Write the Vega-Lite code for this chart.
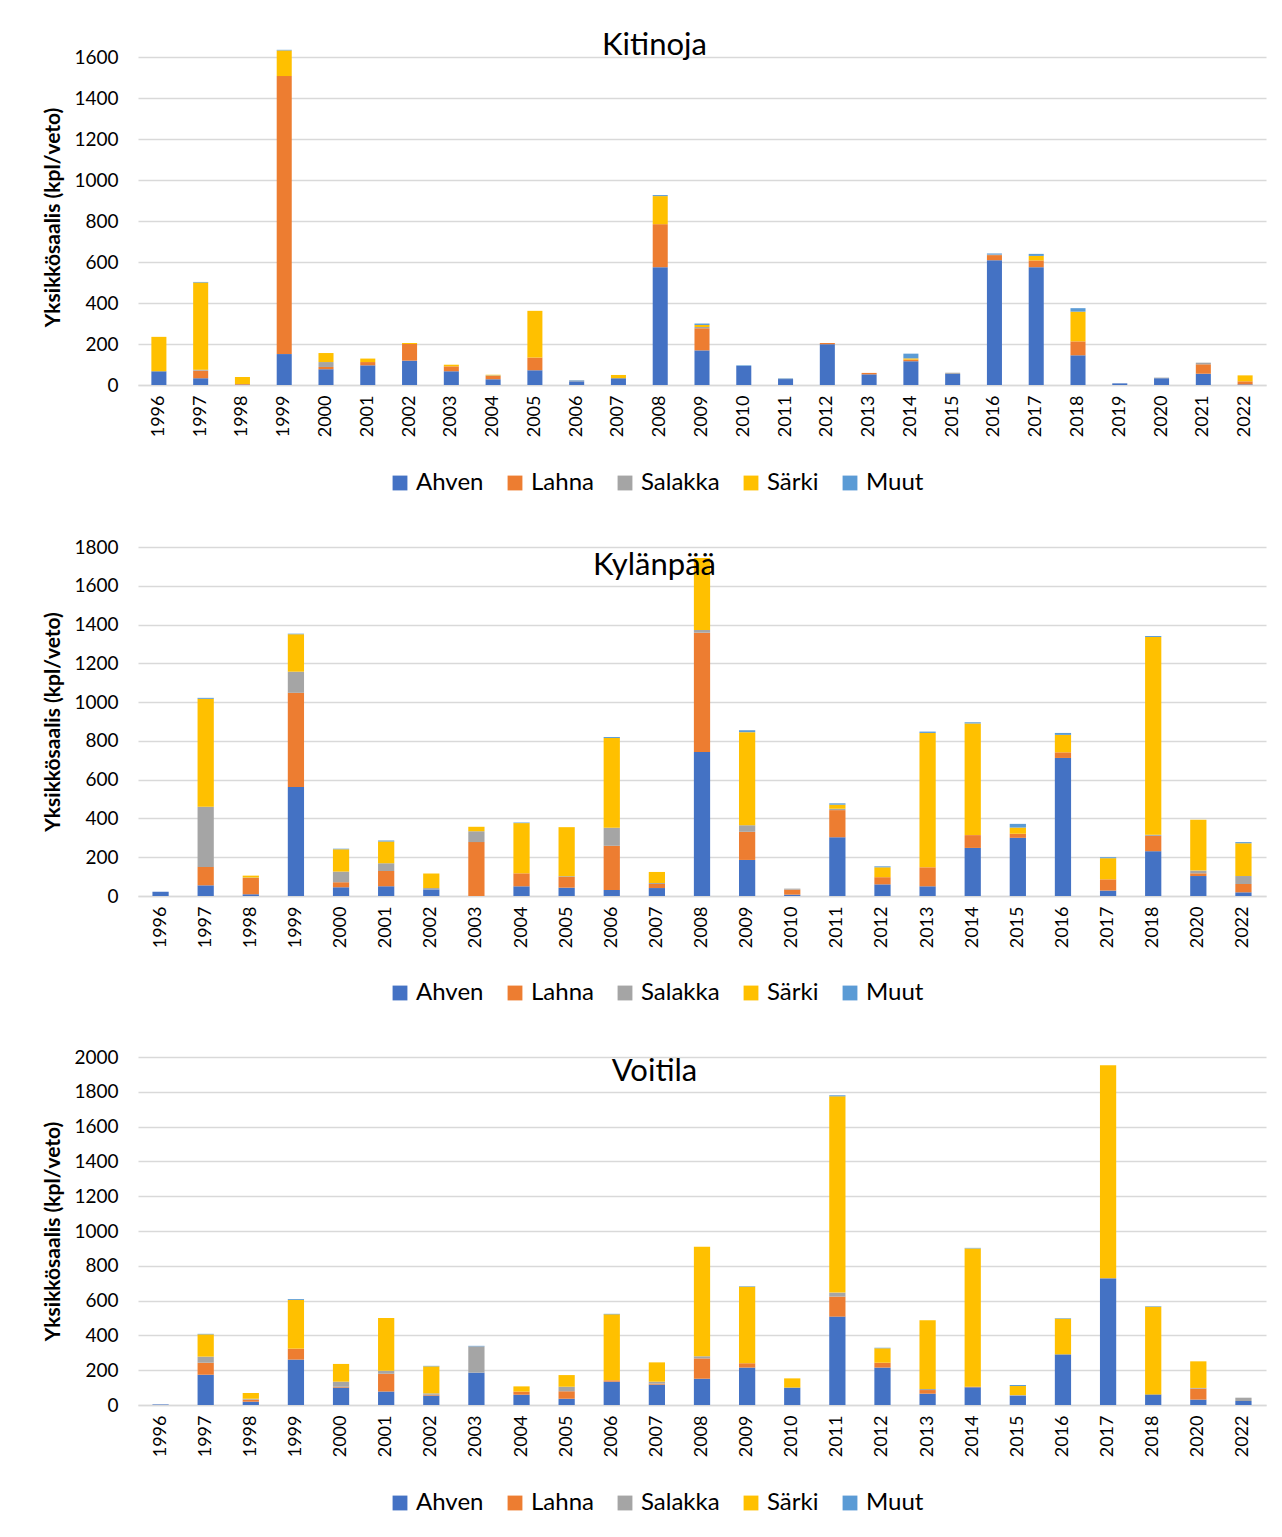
{
"$schema": "https://vega.github.io/schema/vega-lite/v6.json",
"padding": {"left": 42, "top": 30, "right": 14, "bottom": 10},
"config": {
  "font": "Lato",
  "view": {"stroke": null},
  "concat": {"spacing": 43},
  "axisX": {"domainColor": "#d9d9d9", "domainWidth": 1.5, "ticks": false, "labelAngle": -90, "labelFontSize": 18, "labelPadding": 10, "labelColor": "#000", "title": null, "grid": false},
  "axisY": {"domain": false, "ticks": false, "gridColor": "#d9d9d9", "gridWidth": 1.5, "labelFontSize": 19, "labelPadding": 20, "labelColor": "#000", "titleFontSize": 21, "titleFontWeight": "bold", "titleColor": "#000", "titlePadding": 10, "format": "d"},
  "legend": {"orient": "none", "direction": "horizontal", "title": null, "symbolType": "square", "symbolSize": 220, "symbolStrokeWidth": 0, "labelFontSize": 24, "labelColor": "#000", "columnPadding": 19, "legendX": 250},
  "title": {"fontSize": 31, "fontWeight": "normal", "color": "#000", "anchor": "middle", "frame": "bounds"}
},
"datasets": {"d": [
{"p":"Kitinoja","v":"1996","Ahven":67,"Lahna":0,"Salakka":0,"Särki":168,"Muut":0},
{"p":"Kitinoja","v":"1997","Ahven":33,"Lahna":37,"Salakka":5,"Särki":425,"Muut":3},
{"p":"Kitinoja","v":"1998","Ahven":2,"Lahna":3,"Salakka":0,"Särki":34,"Muut":0},
{"p":"Kitinoja","v":"1999","Ahven":151,"Lahna":1357,"Salakka":0,"Särki":125,"Muut":3},
{"p":"Kitinoja","v":"2000","Ahven":77,"Lahna":11,"Salakka":24,"Särki":44,"Muut":0},
{"p":"Kitinoja","v":"2001","Ahven":96,"Lahna":16,"Salakka":0,"Särki":17,"Muut":0},
{"p":"Kitinoja","v":"2002","Ahven":119,"Lahna":81,"Salakka":0,"Särki":5,"Muut":0},
{"p":"Kitinoja","v":"2003","Ahven":67,"Lahna":24,"Salakka":0,"Särki":8,"Muut":0},
{"p":"Kitinoja","v":"2004","Ahven":28,"Lahna":16,"Salakka":3,"Särki":3,"Muut":0},
{"p":"Kitinoja","v":"2005","Ahven":72,"Lahna":62,"Salakka":0,"Särki":228,"Muut":0},
{"p":"Kitinoja","v":"2006","Ahven":18,"Lahna":0,"Salakka":4,"Särki":0,"Muut":2},
{"p":"Kitinoja","v":"2007","Ahven":33,"Lahna":0,"Salakka":0,"Särki":16,"Muut":0},
{"p":"Kitinoja","v":"2008","Ahven":575,"Lahna":210,"Salakka":0,"Särki":137,"Muut":5},
{"p":"Kitinoja","v":"2009","Ahven":169,"Lahna":108,"Salakka":6,"Särki":10,"Muut":7},
{"p":"Kitinoja","v":"2010","Ahven":93,"Lahna":0,"Salakka":0,"Särki":0,"Muut":3},
{"p":"Kitinoja","v":"2011","Ahven":29,"Lahna":0,"Salakka":2,"Särki":0,"Muut":2},
{"p":"Kitinoja","v":"2012","Ahven":199,"Lahna":6,"Salakka":0,"Särki":0,"Muut":0},
{"p":"Kitinoja","v":"2013","Ahven":52,"Lahna":7,"Salakka":0,"Särki":0,"Muut":0},
{"p":"Kitinoja","v":"2014","Ahven":116,"Lahna":8,"Salakka":0,"Särki":6,"Muut":23},
{"p":"Kitinoja","v":"2015","Ahven":54,"Lahna":0,"Salakka":6,"Särki":0,"Muut":0},
{"p":"Kitinoja","v":"2016","Ahven":609,"Lahna":25,"Salakka":3,"Särki":0,"Muut":5},
{"p":"Kitinoja","v":"2017","Ahven":575,"Lahna":33,"Salakka":0,"Särki":22,"Muut":10},
{"p":"Kitinoja","v":"2018","Ahven":145,"Lahna":68,"Salakka":0,"Särki":145,"Muut":17},
{"p":"Kitinoja","v":"2019","Ahven":8,"Lahna":0,"Salakka":0,"Särki":0,"Muut":0},
{"p":"Kitinoja","v":"2020","Ahven":33,"Lahna":0,"Salakka":3,"Särki":0,"Muut":0},
{"p":"Kitinoja","v":"2021","Ahven":55,"Lahna":46,"Salakka":8,"Särki":0,"Muut":0},
{"p":"Kitinoja","v":"2022","Ahven":3,"Lahna":15,"Salakka":0,"Särki":29,"Muut":0},
{"p":"Kylänpää","v":"1996","Ahven":22,"Lahna":0,"Salakka":0,"Särki":0,"Muut":0},
{"p":"Kylänpää","v":"1997","Ahven":55,"Lahna":95,"Salakka":310,"Särki":557,"Muut":5},
{"p":"Kylänpää","v":"1998","Ahven":9,"Lahna":84,"Salakka":2,"Särki":10,"Muut":0},
{"p":"Kylänpää","v":"1999","Ahven":562,"Lahna":486,"Salakka":109,"Särki":193,"Muut":3},
{"p":"Kylänpää","v":"2000","Ahven":45,"Lahna":26,"Salakka":55,"Särki":115,"Muut":3},
{"p":"Kylänpää","v":"2001","Ahven":50,"Lahna":79,"Salakka":40,"Särki":112,"Muut":5},
{"p":"Kylänpää","v":"2002","Ahven":34,"Lahna":0,"Salakka":7,"Särki":75,"Muut":0},
{"p":"Kylänpää","v":"2003","Ahven":0,"Lahna":278,"Salakka":56,"Särki":23,"Muut":0},
{"p":"Kylänpää","v":"2004","Ahven":50,"Lahna":67,"Salakka":0,"Särki":259,"Muut":3},
{"p":"Kylänpää","v":"2005","Ahven":43,"Lahna":55,"Salakka":4,"Särki":253,"Muut":0},
{"p":"Kylänpää","v":"2006","Ahven":31,"Lahna":228,"Salakka":93,"Särki":463,"Muut":5},
{"p":"Kylänpää","v":"2007","Ahven":41,"Lahna":21,"Salakka":5,"Särki":57,"Muut":0},
{"p":"Kylänpää","v":"2008","Ahven":743,"Lahna":615,"Salakka":14,"Särki":371,"Muut":0},
{"p":"Kylänpää","v":"2009","Ahven":186,"Lahna":145,"Salakka":34,"Särki":480,"Muut":10},
{"p":"Kylänpää","v":"2010","Ahven":7,"Lahna":26,"Salakka":5,"Särki":0,"Muut":0},
{"p":"Kylänpää","v":"2011","Ahven":303,"Lahna":140,"Salakka":7,"Särki":21,"Muut":7},
{"p":"Kylänpää","v":"2012","Ahven":60,"Lahna":37,"Salakka":0,"Särki":51,"Muut":5},
{"p":"Kylänpää","v":"2013","Ahven":50,"Lahna":98,"Salakka":0,"Särki":693,"Muut":7},
{"p":"Kylänpää","v":"2014","Ahven":248,"Lahna":66,"Salakka":0,"Särki":576,"Muut":6},
{"p":"Kylänpää","v":"2015","Ahven":300,"Lahna":21,"Salakka":0,"Särki":32,"Muut":19},
{"p":"Kylänpää","v":"2016","Ahven":712,"Lahna":29,"Salakka":0,"Särki":90,"Muut":10},
{"p":"Kylänpää","v":"2017","Ahven":28,"Lahna":58,"Salakka":0,"Särki":109,"Muut":5},
{"p":"Kylänpää","v":"2018","Ahven":231,"Lahna":79,"Salakka":6,"Särki":1020,"Muut":5},
{"p":"Kylänpää","v":"2020","Ahven":103,"Lahna":14,"Salakka":14,"Särki":262,"Muut":0},
{"p":"Kylänpää","v":"2022","Ahven":19,"Lahna":43,"Salakka":41,"Särki":169,"Muut":6},
{"p":"Voitila","v":"1996","Ahven":3,"Lahna":0,"Salakka":0,"Särki":0,"Muut":0},
{"p":"Voitila","v":"1997","Ahven":174,"Lahna":69,"Salakka":35,"Särki":128,"Muut":3},
{"p":"Voitila","v":"1998","Ahven":19,"Lahna":12,"Salakka":5,"Särki":33,"Muut":0},
{"p":"Voitila","v":"1999","Ahven":261,"Lahna":63,"Salakka":0,"Särki":280,"Muut":5},
{"p":"Voitila","v":"2000","Ahven":100,"Lahna":5,"Salakka":29,"Särki":102,"Muut":0},
{"p":"Voitila","v":"2001","Ahven":77,"Lahna":103,"Salakka":17,"Särki":303,"Muut":0},
{"p":"Voitila","v":"2002","Ahven":54,"Lahna":5,"Salakka":8,"Särki":155,"Muut":3},
{"p":"Voitila","v":"2003","Ahven":186,"Lahna":0,"Salakka":151,"Särki":0,"Muut":3},
{"p":"Voitila","v":"2004","Ahven":59,"Lahna":18,"Salakka":0,"Särki":30,"Muut":0},
{"p":"Voitila","v":"2005","Ahven":36,"Lahna":43,"Salakka":26,"Särki":67,"Muut":0},
{"p":"Voitila","v":"2006","Ahven":134,"Lahna":8,"Salakka":0,"Särki":379,"Muut":3},
{"p":"Voitila","v":"2007","Ahven":117,"Lahna":6,"Salakka":11,"Särki":111,"Muut":0},
{"p":"Voitila","v":"2008","Ahven":151,"Lahna":117,"Salakka":12,"Särki":630,"Muut":0},
{"p":"Voitila","v":"2009","Ahven":215,"Lahna":25,"Salakka":0,"Särki":440,"Muut":3},
{"p":"Voitila","v":"2010","Ahven":100,"Lahna":0,"Salakka":0,"Särki":53,"Muut":0},
{"p":"Voitila","v":"2011","Ahven":508,"Lahna":115,"Salakka":23,"Särki":1128,"Muut":6},
{"p":"Voitila","v":"2012","Ahven":215,"Lahna":28,"Salakka":0,"Särki":83,"Muut":3},
{"p":"Voitila","v":"2013","Ahven":65,"Lahna":21,"Salakka":6,"Särki":395,"Muut":0},
{"p":"Voitila","v":"2014","Ahven":102,"Lahna":3,"Salakka":0,"Särki":795,"Muut":3},
{"p":"Voitila","v":"2015","Ahven":54,"Lahna":0,"Salakka":3,"Särki":52,"Muut":6},
{"p":"Voitila","v":"2016","Ahven":291,"Lahna":0,"Salakka":0,"Särki":205,"Muut":3},
{"p":"Voitila","v":"2017","Ahven":724,"Lahna":0,"Salakka":6,"Särki":1222,"Muut":0},
{"p":"Voitila","v":"2018","Ahven":61,"Lahna":0,"Salakka":0,"Särki":504,"Muut":3},
{"p":"Voitila","v":"2020","Ahven":31,"Lahna":63,"Salakka":4,"Särki":153,"Muut":0},
{"p":"Voitila","v":"2022","Ahven":23,"Lahna":0,"Salakka":19,"Särki":0,"Muut":0}
]},
"resolve": {"legend": {"color": "independent"}, "scale": {"x": "independent", "y": "independent"}},
"vconcat": [
{
  "title": {"text": "Kitinoja", "offset": -14},
  "width": 1128, "height": 336,
  "data": {"name": "d"},
  "transform": [
    {"filter": "datum.p == 'Kitinoja'"},
    {"fold": ["Ahven", "Lahna", "Salakka", "Särki", "Muut"], "as": ["laji", "arvo"]},
    {"calculate": "indexof(['Ahven','Lahna','Salakka','Särki','Muut'], datum.laji)", "as": "ord"}
  ],
  "mark": {"type": "bar"},
  "encoding": {
    "x": {"field": "v", "type": "nominal", "scale": {"paddingInner": 0.64, "paddingOuter": 0.32}},
    "y": {"field": "arvo", "type": "quantitative", "stack": "zero", "scale": {"domain": [0, 1640], "nice": false}, "axis": {"values": [0,200,400,600,800,1000,1200,1400,1600], "title": "Yksikkösaalis (kpl/veto)"}},
    "color": {"field": "laji", "type": "nominal", "scale": {"domain": ["Ahven","Lahna","Salakka","Särki","Muut"], "range": ["#4472C4","#ED7D31","#A5A5A5","#FFC000","#5B9BD5"]}, "legend": {"legendY": 422}},
    "order": {"field": "ord", "type": "quantitative", "sort": "ascending"}
  }
},
{
  "title": {"text": "Kylänpää", "offset": -44},
  "width": 1128, "height": 349,
  "data": {"name": "d"},
  "transform": [
    {"filter": "datum.p == 'Kylänpää'"},
    {"fold": ["Ahven", "Lahna", "Salakka", "Särki", "Muut"], "as": ["laji", "arvo"]},
    {"calculate": "indexof(['Ahven','Lahna','Salakka','Särki','Muut'], datum.laji)", "as": "ord"}
  ],
  "mark": {"type": "bar"},
  "encoding": {
    "x": {"field": "v", "type": "nominal", "scale": {"paddingInner": 0.64, "paddingOuter": 0.32}},
    "y": {"field": "arvo", "type": "quantitative", "stack": "zero", "scale": {"domain": [0, 1800], "nice": false}, "axis": {"values": [0,200,400,600,800,1000,1200,1400,1600,1800], "title": "Yksikkösaalis (kpl/veto)"}},
    "color": {"field": "laji", "type": "nominal", "scale": {"domain": ["Ahven","Lahna","Salakka","Särki","Muut"], "range": ["#4472C4","#ED7D31","#A5A5A5","#FFC000","#5B9BD5"]}, "legend": {"legendY": 434}},
    "order": {"field": "ord", "type": "quantitative", "sort": "ascending"}
  }
},
{
  "title": {"text": "Voitila", "offset": -40},
  "width": 1128, "height": 348,
  "data": {"name": "d"},
  "transform": [
    {"filter": "datum.p == 'Voitila'"},
    {"fold": ["Ahven", "Lahna", "Salakka", "Särki", "Muut"], "as": ["laji", "arvo"]},
    {"calculate": "indexof(['Ahven','Lahna','Salakka','Särki','Muut'], datum.laji)", "as": "ord"}
  ],
  "mark": {"type": "bar"},
  "encoding": {
    "x": {"field": "v", "type": "nominal", "scale": {"paddingInner": 0.64, "paddingOuter": 0.32}},
    "y": {"field": "arvo", "type": "quantitative", "stack": "zero", "scale": {"domain": [0, 2000], "nice": false}, "axis": {"values": [0,200,400,600,800,1000,1200,1400,1600,1800,2000], "title": "Yksikkösaalis (kpl/veto)"}},
    "color": {"field": "laji", "type": "nominal", "scale": {"domain": ["Ahven","Lahna","Salakka","Särki","Muut"], "range": ["#4472C4","#ED7D31","#A5A5A5","#FFC000","#5B9BD5"]}, "legend": {"legendY": 434}},
    "order": {"field": "ord", "type": "quantitative", "sort": "ascending"}
  }
}
]
}
